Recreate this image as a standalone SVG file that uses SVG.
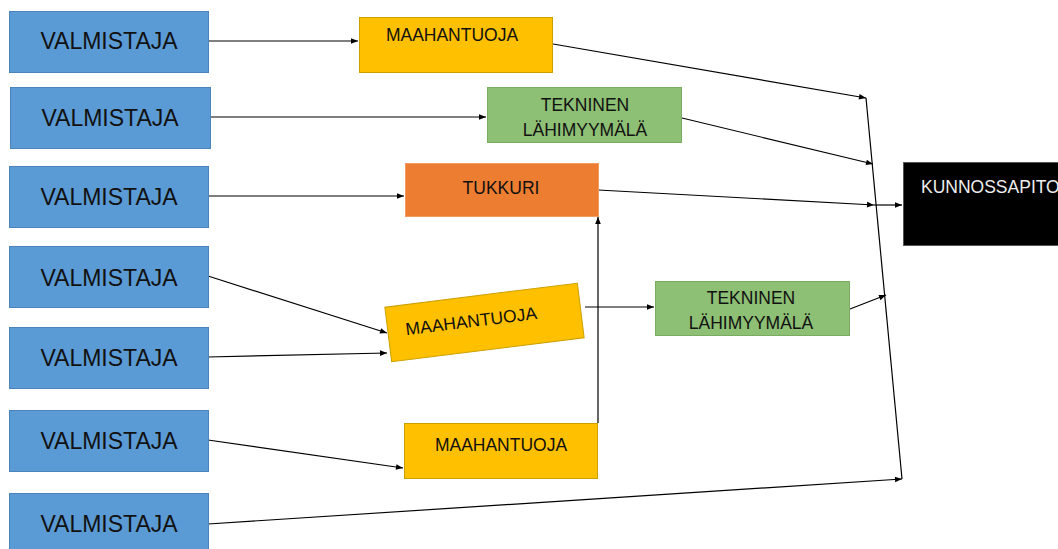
<svg xmlns="http://www.w3.org/2000/svg" width="1058" height="549" viewBox="0 0 1058 549">
<defs>
<style>
.v{fill:#5B9BD5;stroke:#4A84BA;stroke-width:1}
.y{fill:#FFC000;stroke:#C9A000;stroke-width:1}
.g{fill:#8DBF74;stroke:#79AB60;stroke-width:1}
.o{fill:#ED7D31;stroke:#F39A5E;stroke-width:1}
.k{fill:#000000;stroke:#555555;stroke-width:1}
text{font-family:"Liberation Sans",Arial,sans-serif;fill:#111111;text-anchor:middle}
.tv{font-size:23px}
.ts{font-size:17.5px}
.tw{fill:#EEEEEE;text-anchor:start}
.c line,.c path{stroke:#000000;stroke-width:1.2;fill:none}
</style>
<marker id="arr" viewBox="0 0 10 10" refX="10" refY="5" markerWidth="8" markerHeight="7" markerUnits="userSpaceOnUse" orient="auto">
<path d="M0,1 L10,5 L0,9 z" fill="#000000"/>
</marker>
</defs>
<rect width="1058" height="549" fill="#FFFFFF"/>

<g class="c" id="connectors">
<line x1="208" y1="41" x2="358" y2="41" marker-end="url(#arr)"/>
<line x1="210" y1="117" x2="486" y2="117" marker-end="url(#arr)"/>
<line x1="208" y1="196" x2="404" y2="196" marker-end="url(#arr)"/>
<line x1="208" y1="276" x2="387" y2="333" marker-end="url(#arr)"/>
<line x1="208" y1="357" x2="387" y2="353" marker-end="url(#arr)"/>
<line x1="208" y1="440" x2="403" y2="468" marker-end="url(#arr)"/>
<line x1="208" y1="524" x2="902" y2="479" marker-end="url(#arr)"/>
<line x1="585" y1="307" x2="654" y2="307" marker-end="url(#arr)"/>
<line x1="598" y1="423" x2="598" y2="217" marker-end="url(#arr)"/>
<line x1="553" y1="44" x2="866" y2="98" marker-end="url(#arr)"/>
<line x1="682" y1="118" x2="873" y2="164" marker-end="url(#arr)"/>
<line x1="598" y1="190" x2="874" y2="205" marker-end="url(#arr)"/>
<line x1="874" y1="205" x2="902" y2="205" marker-end="url(#arr)"/>
<line x1="850" y1="309" x2="886" y2="295" marker-end="url(#arr)"/>
<line x1="866" y1="98" x2="902" y2="479"/>
</g>

<g id="valmistaja1"><rect class="v" x="9.5" y="11.5" width="199" height="61"/><text class="tv" x="109" y="49">VALMISTAJA</text></g>
<g id="valmistaja2"><rect class="v" x="10.5" y="87.5" width="200" height="61"/><text class="tv" x="110" y="126">VALMISTAJA</text></g>
<g id="valmistaja3"><rect class="v" x="9.5" y="166.5" width="199" height="61"/><text class="tv" x="109" y="205">VALMISTAJA</text></g>
<g id="valmistaja4"><rect class="v" x="9.5" y="246.5" width="199" height="61"/><text class="tv" x="109" y="285.5">VALMISTAJA</text></g>
<g id="valmistaja5"><rect class="v" x="9.5" y="327.5" width="199" height="61"/><text class="tv" x="109" y="366">VALMISTAJA</text></g>
<g id="valmistaja6"><rect class="v" x="9.5" y="410.5" width="199" height="61"/><text class="tv" x="109" y="449">VALMISTAJA</text></g>
<g id="valmistaja7"><rect class="v" x="9.5" y="493.5" width="199" height="61"/><text class="tv" x="109" y="532">VALMISTAJA</text></g>

<g id="maahantuoja1"><rect class="y" x="359.5" y="17.5" width="193" height="55"/><text class="ts" x="452" y="41">MAAHANTUOJA</text></g>
<g id="tekninen1"><rect class="g" x="487.5" y="87.5" width="194" height="55"/><text class="ts" x="585" y="111">TEKNINEN</text><text class="ts" x="585" y="136">LÄHIMYYMÄLÄ</text></g>
<g id="tukkuri"><rect class="o" x="405.5" y="163.5" width="193" height="53"/><text class="ts" x="501" y="194">TUKKURI</text></g>
<g id="maahantuoja2" transform="translate(484.5,322.5) rotate(-7.1)"><rect class="y" x="-97" y="-27.5" width="194" height="55"/><text class="ts" x="-13" y="3">MAAHANTUOJA</text></g>
<g id="tekninen2"><rect class="g" x="655.5" y="281.5" width="194" height="54"/><text class="ts" x="751" y="304">TEKNINEN</text><text class="ts" x="751" y="329">LÄHIMYYMÄLÄ</text></g>
<g id="maahantuoja3"><rect class="y" x="404.5" y="423.5" width="193" height="55"/><text class="ts" x="501" y="451">MAAHANTUOJA</text></g>
<g id="kunnossapito"><rect class="k" x="903.5" y="162.5" width="170" height="83"/><text class="ts tw" x="921" y="193">KUNNOSSAPITO</text></g>
</svg>
